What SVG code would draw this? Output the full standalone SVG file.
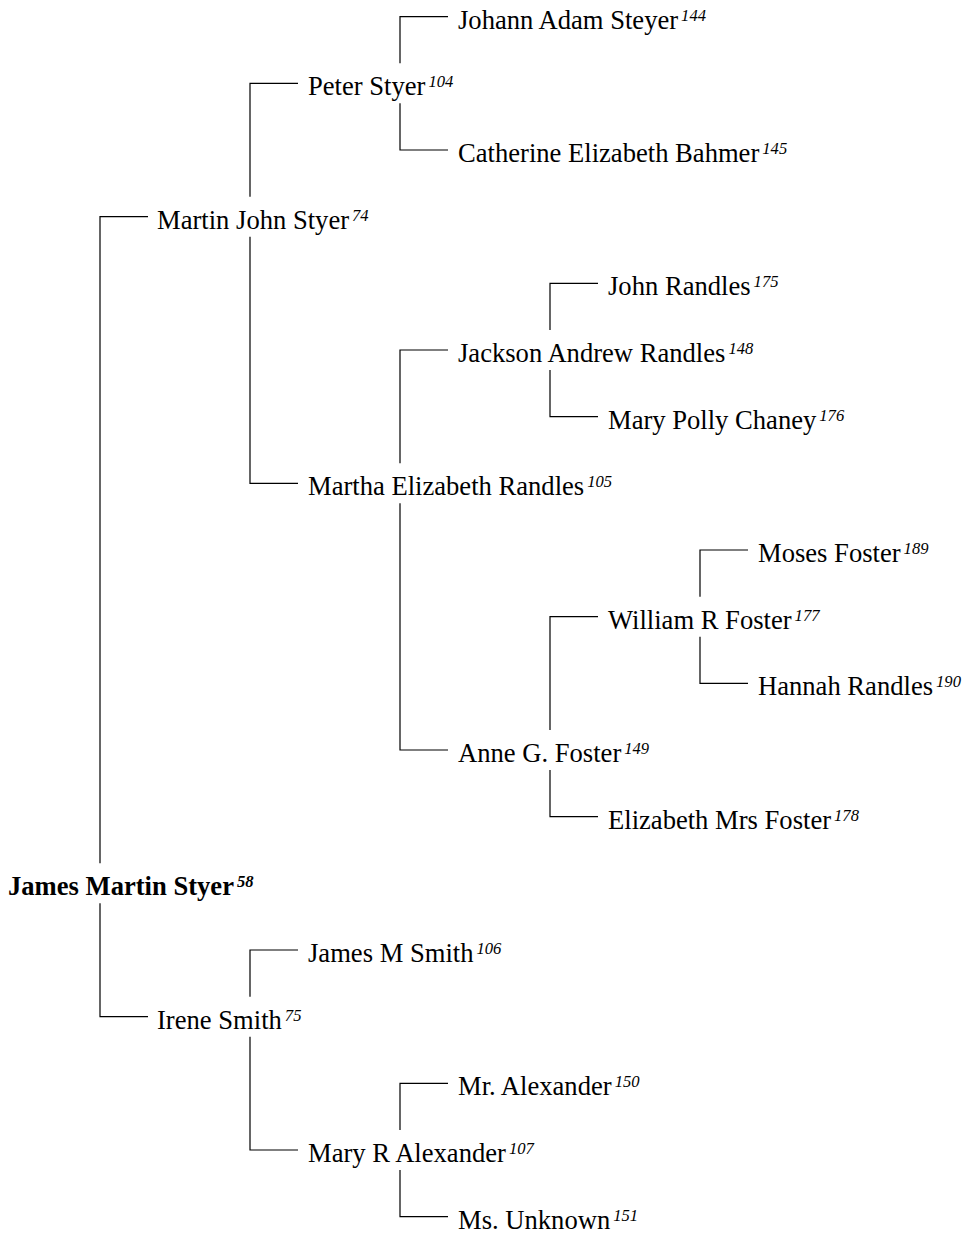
<svg xmlns="http://www.w3.org/2000/svg" width="965" height="1236" viewBox="0 0 965 1236">
<style>
.n{font-family:"Liberation Serif","Times New Roman",serif;font-size:26.6px;fill:#000}
.r{font-weight:bold}
.s{font-size:16.6px;font-style:italic}
.c{fill:none;stroke:#000;stroke-width:1.2}
</style>
<rect width="965" height="1236" fill="#fff"/>
<g id="connectors" class="c">
<path d="M148 216.7H100V863.3M100 903.3V1016.7H148"/>
<path d="M298 83.3H250V196.7M250 236.7V483.3H298"/>
<path d="M448 16.7H400V63.3M400 103.3V150H448"/>
<path d="M448 350H400V463.3M400 503.3V750H448"/>
<path d="M598 283.3H550V330M550 370V416.7H598"/>
<path d="M598 616.7H550V730M550 770V816.7H598"/>
<path d="M748 550H700V596.7M700 636.7V683.3H748"/>
<path d="M298 950H250V996.7M250 1036.7V1150H298"/>
<path d="M448 1083.3H400V1130M400 1170V1216.7H448"/>
</g>
<g id="n144"><text class="n" x="458" y="28.7">Johann Adam Steyer<tspan class="s" dx="3" dy="-8">144</tspan></text></g>
<g id="n104"><text class="n" x="308" y="95.3">Peter Styer<tspan class="s" dx="3" dy="-8">104</tspan></text></g>
<g id="n145"><text class="n" x="458" y="162">Catherine Elizabeth Bahmer<tspan class="s" dx="3" dy="-8">145</tspan></text></g>
<g id="n74"><text class="n" x="157" y="228.7">Martin John Styer<tspan class="s" dx="3" dy="-8">74</tspan></text></g>
<g id="n175"><text class="n" x="608" y="295.3">John Randles<tspan class="s" dx="3" dy="-8">175</tspan></text></g>
<g id="n148"><text class="n" x="458" y="362">Jackson Andrew Randles<tspan class="s" dx="3" dy="-8">148</tspan></text></g>
<g id="n176"><text class="n" x="608" y="428.7">Mary Polly Chaney<tspan class="s" dx="3" dy="-8">176</tspan></text></g>
<g id="n105"><text class="n" x="308" y="495.3">Martha Elizabeth Randles<tspan class="s" dx="3" dy="-8">105</tspan></text></g>
<g id="n189"><text class="n" x="758" y="562">Moses Foster<tspan class="s" dx="3" dy="-8">189</tspan></text></g>
<g id="n177"><text class="n" x="608" y="628.7">William R Foster<tspan class="s" dx="3" dy="-8">177</tspan></text></g>
<g id="n190"><text class="n" x="758" y="695.3">Hannah Randles<tspan class="s" dx="3" dy="-8">190</tspan></text></g>
<g id="n149"><text class="n" x="458" y="762">Anne G. Foster<tspan class="s" dx="3" dy="-8">149</tspan></text></g>
<g id="n178"><text class="n" x="608" y="828.7">Elizabeth Mrs Foster<tspan class="s" dx="3" dy="-8">178</tspan></text></g>
<g id="n58"><text class="n r" x="8" y="895.3">James Martin Styer<tspan class="s" dx="3" dy="-8">58</tspan></text></g>
<g id="n106"><text class="n" x="308" y="962">James M Smith<tspan class="s" dx="3" dy="-8">106</tspan></text></g>
<g id="n75"><text class="n" x="157" y="1028.7">Irene Smith<tspan class="s" dx="3" dy="-8">75</tspan></text></g>
<g id="n150"><text class="n" x="458" y="1095.3">Mr. Alexander<tspan class="s" dx="3" dy="-8">150</tspan></text></g>
<g id="n107"><text class="n" x="308" y="1162">Mary R Alexander<tspan class="s" dx="3" dy="-8">107</tspan></text></g>
<g id="n151"><text class="n" x="458" y="1228.7">Ms. Unknown<tspan class="s" dx="3" dy="-8">151</tspan></text></g>
</svg>
